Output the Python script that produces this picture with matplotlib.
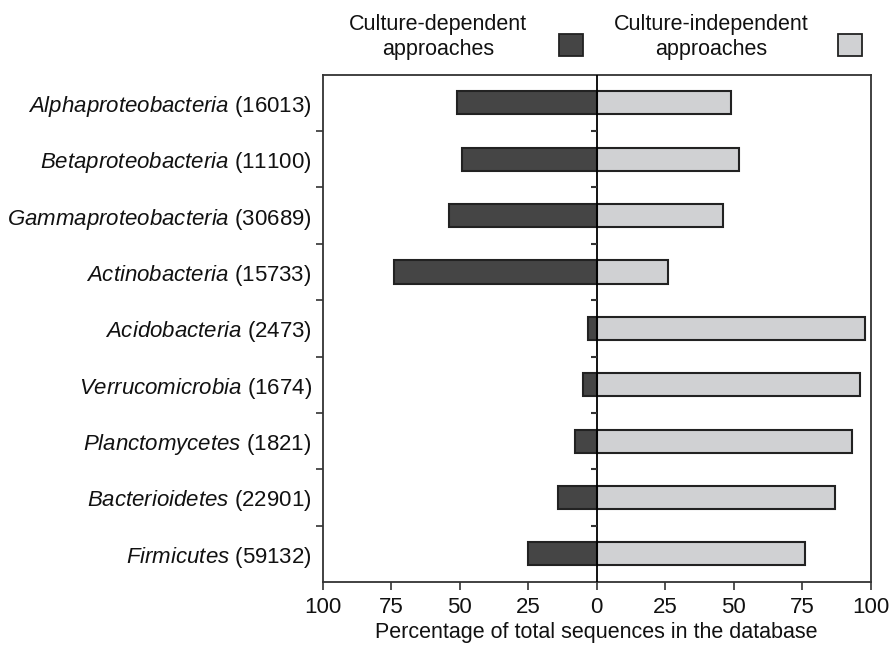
import numpy as np
import matplotlib
matplotlib.use('Agg')
import matplotlib.pyplot as plt

plt.rcParams['font.family'] = 'Liberation Sans'
plt.rcParams['mathtext.fontset'] = 'custom'
plt.rcParams['mathtext.rm'] = 'Liberation Sans'
plt.rcParams['mathtext.it'] = 'Liberation Sans:italic'

taxa = ['Alphaproteobacteria', 'Betaproteobacteria', 'Gammaproteobacteria',
        'Actinobacteria', 'Acidobacteria', 'Verrucomicrobia', 'Planctomycetes',
        'Bacterioidetes', 'Firmicutes']
counts = [16013, 11100, 30689, 15733, 2473, 1674, 1821, 22901, 59132]
dependent = [51, 49, 54, 74, 3, 5, 8, 14, 25]
independent = [49, 52, 46, 26, 98, 96, 93, 87, 76]
xticks = [-100, -75, -50, -25, 0, 25, 50, 75, 100]

DARK = '#454545'
LIGHT = '#d0d1d3'
EDGE = '#222222'
FS = 16

fig = plt.figure(figsize=(8.91, 6.45), dpi=100)
ax = fig.add_axes([0.3622, 0.0977, 0.6150, 0.7865])

y = np.arange(len(taxa))
ax.barh(y, -np.array(dependent), height=0.41, color=DARK, edgecolor=EDGE, linewidth=1.5, zorder=2)
ax.barh(y, independent, height=0.41, color=LIGHT, edgecolor=EDGE, linewidth=1.5, zorder=2)

ax.set_xlim(-100, 100)
ax.set_ylim(len(taxa) - 0.5, -0.5)
ax.axvline(0, color='black', lw=1.3, zorder=3)

# separators between rows: ticks on the left spine and on the centre line
bounds = y[:-1] + 0.5
ax.set_yticks(bounds)
ax.set_yticklabels([])
ax.tick_params(axis='y', which='major', direction='out', length=5, width=1.2, color='#333333')
ax.hlines(bounds, -2.2, 0, color='#333333', lw=1.5, zorder=3)

labels = [r'$\mathit{%s}$ (%d)' % (t, c) for t, c in zip(taxa, counts)]
ax.set_yticks(y, minor=True)
ax.set_yticklabels(labels, minor=True, fontsize=FS, color='#111111')
ax.tick_params(axis='y', which='minor', length=0, pad=8)

ax.set_xticks(xticks)
ax.set_xticklabels([str(abs(v)) for v in xticks], fontsize=FS, color='#111111')
ax.tick_params(axis='x', direction='out', length=6, width=1.2, color='#333333', pad=5)
ax.set_xlabel('Percentage of total sequences in the database', fontsize=15.5, color='#111111', labelpad=3)

for s in ax.spines.values():
    s.set_linewidth(1.3)
    s.set_color('#333333')

# legend drawn above the axes
fig.text(438 / 891, 1 - 37 / 645, 'Culture-dependent\napproaches', ha='center', va='center',
         fontsize=15.5, color='#111111', linespacing=1.3)
fig.text(711 / 891, 1 - 37 / 645, 'Culture-independent\napproaches', ha='center', va='center',
         fontsize=15.5, color='#111111', linespacing=1.3)
for x0, c in [(559, DARK), (838, LIGHT)]:
    fig.patches.append(plt.Rectangle((x0 / 891, 1 - 56 / 645), 24 / 891, 22 / 645,
                                     transform=fig.transFigure, facecolor=c,
                                     edgecolor=EDGE, linewidth=1.3))

fig.savefig('out.png', dpi=100)
